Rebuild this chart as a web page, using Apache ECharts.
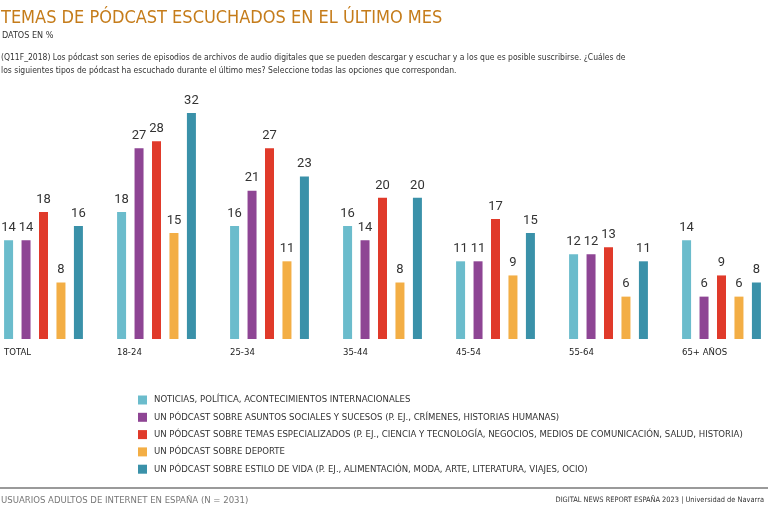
<!DOCTYPE html>
<html>
<head>
<meta charset="utf-8">
<script src="https://cdn.jsdelivr.net/npm/echarts@6/dist/echarts.min.js"></script>
<style>html,body{margin:0;padding:0;background:#fff}#c{width:768px;height:511px}</style>
</head>
<body>
<div id="c"></div>
<script>
const categories = ['TOTAL', '18-24', '25-34', '35-44', '45-54', '55-64', '65+ AÑOS'];
const seriesNames = [
  'NOTICIAS, POLÍTICA, ACONTECIMIENTOS INTERNACIONALES',
  'UN PÓDCAST SOBRE ASUNTOS SOCIALES Y SUCESOS (P. EJ., CRÍMENES, HISTORIAS HUMANAS)',
  'UN PÓDCAST SOBRE TEMAS ESPECIALIZADOS (P. EJ., CIENCIA Y TECNOLOGÍA, NEGOCIOS, MEDIOS DE COMUNICACIÓN, SALUD, HISTORIA)',
  'UN PÓDCAST SOBRE DEPORTE',
  'UN PÓDCAST SOBRE ESTILO DE VIDA (P. EJ., ALIMENTACIÓN, MODA, ARTE, LITERATURA, VIAJES, OCIO)'
];
const noticias = [14, 18, 16, 16, 11, 12, 14];
const sociales = [14, 27, 21, 14, 11, 12, 6];
const especializados = [18, 28, 27, 20, 17, 13, 9];
const deporte = [8, 15, 11, 8, 9, 6, 6];
const estiloVida = [16, 32, 23, 20, 15, 11, 8];
const seriesValues = [noticias, sociales, especializados, deporte, estiloVida];
const colors = ['#6bbccc', '#8e4594', '#e03a2a', '#f3ae45', '#3a91a9'];

const narrow = '"Liberation Sans Narrow", "DejaVu Sans Condensed", "Noto Sans", sans-serif';

const chart = echarts.init(document.getElementById('c'), null, {renderer: 'canvas'});
chart.setOption({
  animation: false,
  color: colors,
  title: [
    {text: 'TEMAS DE PÓDCAST ESCUCHADOS EN EL ÚLTIMO MES', left: -4, top: 4,
     textStyle: {fontFamily: narrow, fontSize: 18, fontWeight: 'normal', color: '#c57c1a'}},
    {text: 'DATOS EN %', left: -3, top: 26,
     textStyle: {fontFamily: narrow, fontSize: 9, fontWeight: 'normal', color: '#333'}},
    {text: '(Q11F_2018) Los pódcast son series de episodios de archivos de audio digitales que se pueden descargar y escuchar y a los que es posible suscribirse. ¿Cuáles de\nlos siguientes tipos de pódcast ha escuchado durante el último mes? Seleccione todas las opciones que correspondan.',
     left: -4, top: 47,
     textStyle: {fontFamily: narrow, fontSize: 8.5, fontWeight: 'normal', color: '#333', lineHeight: 12.5}},
    {text: 'USUARIOS ADULTOS DE INTERNET EN ESPAÑA (N = 2031)', left: -4, top: 491,
     textStyle: {fontFamily: narrow, fontSize: 9.5, fontWeight: 'normal', color: '#777'}},
    {text: 'DIGITAL NEWS REPORT ESPAÑA 2023 | Universidad de Navarra', right: -1, top: 492,
     textStyle: {fontFamily: narrow, fontSize: 7.4, fontWeight: 'normal', color: '#333'}}
  ],
  graphic: [
    {type: 'line', shape: {x1: 0, y1: 488, x2: 768, y2: 488}, style: {stroke: '#9a9a9a', lineWidth: 2}}
  ],
  legend: {
    orient: 'vertical', left: 133, top: 390,
    itemWidth: 9, itemHeight: 9, itemGap: 7.3, icon: 'rect',
    textStyle: {fontFamily: narrow, fontSize: 9.5, color: '#333', padding: [0, 0, 0, 2]},
    data: seriesNames
  },
  grid: {left: -13, right: -10, top: 113, bottom: 172, containLabel: false, outerBoundsMode: 'none'},
  xAxis: {
    type: 'category', data: categories,
    axisLine: {show: false}, axisTick: {show: false},
    axisLabel: {
      margin: 9,
      formatter: v => '{a|' + v + '}',
      rich: {a: {width: 79, align: 'left', fontFamily: narrow, fontSize: 9.5, color: '#222'}}
    }
  },
  yAxis: {type: 'value', min: 0, max: 32, show: false, splitLine: {show: false}},
  series: seriesNames.map((n, i) => ({
    name: n, type: 'bar', data: seriesValues[i],
    barWidth: 9, barGap: '94%',
    label: {show: true, position: 'top', distance: 6, fontFamily: 'Roboto, "Open Sans", sans-serif', fontSize: 13, color: '#333'}
  }))
});
</script>
</body>
</html>
